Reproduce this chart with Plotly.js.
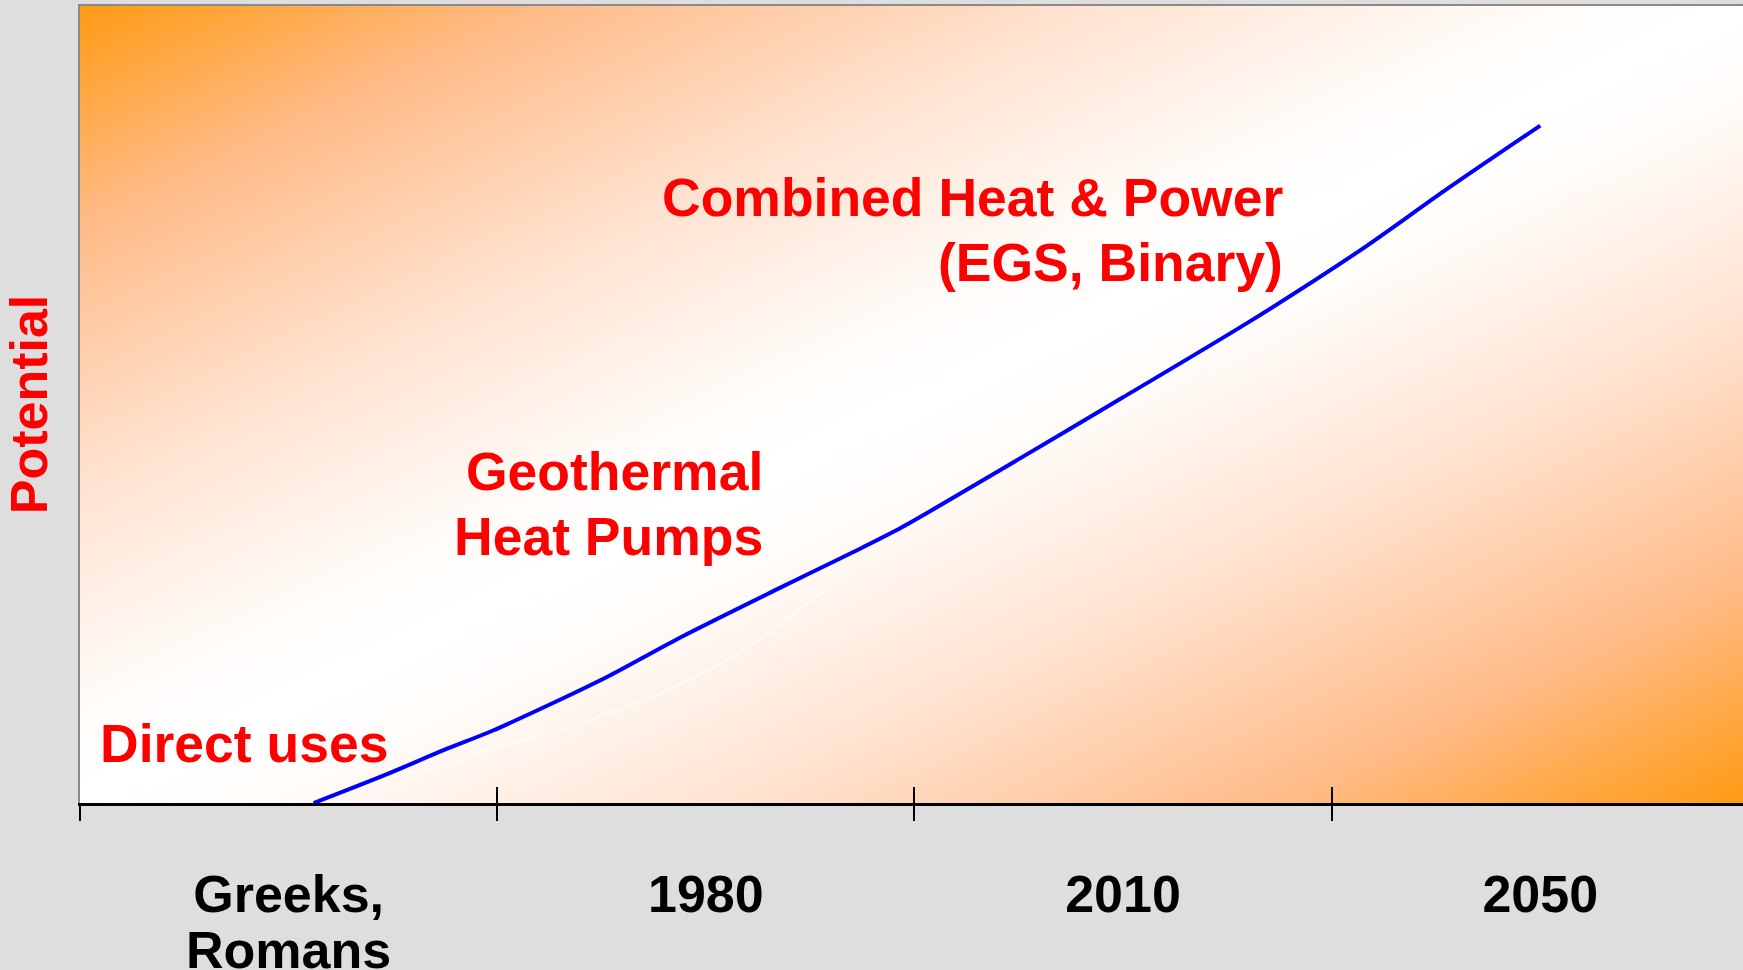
<!DOCTYPE html>
<html>
<head>
<meta charset="utf-8">
<script src="https://cdn.plot.ly/plotly-3.0.1.min.js"></script>
<style>
  html, body { margin: 0; padding: 0; background: #dedede; }
  #chart { width: 1743px; height: 970px; }
</style>
</head>
<body>
<div id="chart"></div>
<script>
// ---- Data ----
// x axis: eras, one category per unit (centres at 0.5, 1.5, 2.5, 3.5)
const eraLabels = ['Greeks,', '1980', '2010', '2050'];
const eraLabels2 = ['Romans'];          // second line of the first era label
const eraCentres = [0.5, 1.5, 2.5, 3.5];
const eraCentres2 = [0.5];
const eraBoundaries = [0, 1, 2, 3];

// blue "potential" curve (x in era units, y in % of plot height)
const potentialX = [0.56, 0.73, 0.87, 0.99, 1.14, 1.27, 1.44, 1.67, 1.85, 1.97, 2.21, 2.50, 2.80, 3.07, 3.27, 3.50];
const potentialY = [0.0, 3.5, 6.6, 9.1, 12.7, 16.0, 20.8, 26.8, 31.4, 34.6, 41.9, 50.9, 60.3, 69.4, 76.8, 85.0];

// faint white highlight curve below the blue one
const glowX = [0.50, 0.74, 0.89, 0.99, 1.19, 1.37, 1.50, 1.62, 1.78, 1.91];
const glowY = [0.0, 3.1, 5.0, 6.8, 9.9, 13.3, 16.5, 20.2, 26.5, 32.0];

// text labels
const stageLines = ['Direct uses', 'Geothermal', 'Heat Pumps', 'Combined Heat &amp; Power', '(EGS, Binary)'];
const yTitle = 'Potential';

// ---- Styling ----
const FONT = 'Liberation Sans, Arial, Helvetica, sans-serif';
const xRange = [0, 3.986];

const gradSvg =
  "<svg xmlns='http://www.w3.org/2000/svg' width='1663' height='797' viewBox='0 0 1663 797' preserveAspectRatio='none'>" +
  "<defs><linearGradient id='g' x1='0' y1='0' x2='1' y2='1'>" +
  "<stop offset='0' stop-color='#ff9a12'/>" +
  "<stop offset='0.14' stop-color='#ffbb88'/>" +
  "<stop offset='0.30' stop-color='#ffe2cf'/>" +
  "<stop offset='0.44' stop-color='#fffbf8'/>" +
  "<stop offset='0.50' stop-color='#ffffff'/>" +
  "<stop offset='0.56' stop-color='#fffbf8'/>" +
  "<stop offset='0.70' stop-color='#ffe2cf'/>" +
  "<stop offset='0.86' stop-color='#ffbb88'/>" +
  "<stop offset='1' stop-color='#ff9a12'/>" +
  "</linearGradient></defs><rect x='0' y='0' width='1663' height='797' fill='url(#g)'/></svg>";
const gradUri = 'data:image/svg+xml;charset=utf-8,' + encodeURIComponent(gradSvg);

function axisHolder(xa) {
  return { x: [null], y: [null], xaxis: xa, yaxis: 'y', type: 'scatter', mode: 'lines',
           hoverinfo: 'skip', showlegend: false };
}

const traces = [
  axisHolder('x2'), axisHolder('x3'), axisHolder('x4'), axisHolder('x5'),
  {
    x: glowX, y: glowY, type: 'scatter', mode: 'lines',
    line: { color: 'rgba(255,255,255,0.9)', width: 1.5, shape: 'spline', smoothing: 0.8 },
    hoverinfo: 'skip', showlegend: false
  },
  {
    x: potentialX, y: potentialY, type: 'scatter', mode: 'lines',
    line: { color: '#0000ff', width: 4, shape: 'spline', smoothing: 0.8 },
    hoverinfo: 'skip', showlegend: false
  }
];

const annFont = { family: FONT, size: 53.5, color: '#ff0000', weight: 'bold' };
function ann(text, x, y, xanchor) {
  return { text: text, xref: 'paper', yref: 'paper', x: x, y: y, xanchor: xanchor,
           yanchor: 'middle', align: xanchor, showarrow: false, font: annFont };
}
const tickFont = { family: FONT, size: 52, color: '#000000', weight: 'bold' };

const layout = {
  width: 1743, height: 970,
  margin: { l: 80, r: 0, t: 6, b: 167, pad: 0 },
  paper_bgcolor: '#dedede',
  plot_bgcolor: 'rgba(0,0,0,0)',
  showlegend: false,
  xaxis: {
    range: xRange, tickvals: eraCentres, ticktext: eraLabels,
    ticks: '', showgrid: false, zeroline: false,
    showline: true, linecolor: '#000000', linewidth: 2.5,
    tickfont: tickFont, ticklabelstandoff: 44, fixedrange: true
  },
  xaxis5: {
    overlaying: 'x', anchor: 'y', side: 'bottom', range: xRange,
    tickvals: eraCentres2, ticktext: eraLabels2,
    ticks: '', showgrid: false, zeroline: false, showline: false,
    tickfont: tickFont, ticklabelstandoff: 112, fixedrange: true
  },
  xaxis2: {
    overlaying: 'x', anchor: 'y', side: 'bottom', range: xRange,
    tickvals: eraBoundaries, ticks: 'outside', ticklen: 17, tickwidth: 2, tickcolor: '#000000',
    showticklabels: false, showgrid: false, zeroline: false, showline: false, fixedrange: true
  },
  xaxis3: {
    overlaying: 'x', anchor: 'y', side: 'bottom', range: xRange,
    tickvals: eraBoundaries, ticks: 'inside', ticklen: 16, tickwidth: 2, tickcolor: '#000000',
    showticklabels: false, showgrid: false, zeroline: false, showline: false, fixedrange: true
  },
  xaxis4: {
    overlaying: 'x', anchor: 'y', side: 'top', range: xRange,
    ticks: '', showticklabels: false, showgrid: false, zeroline: false,
    showline: true, linecolor: '#8a8a8a', linewidth: 2, fixedrange: true
  },
  yaxis: {
    range: [0, 100], ticks: '', showticklabels: false, showgrid: false, zeroline: false,
    showline: true, linecolor: '#8a8a8a', linewidth: 2, fixedrange: true,
    title: { text: yTitle, font: { family: FONT, size: 52, color: '#ff0000', weight: 'bold' } }
  },
  images: [{
    source: gradUri, xref: 'paper', yref: 'paper', x: 0, y: 1, sizex: 1, sizey: 1,
    sizing: 'stretch', xanchor: 'left', yanchor: 'top', layer: 'below'
  }],
  annotations: [
    ann(stageLines[0], 0.0108, 0.075, 'left'),
    ann(stageLines[1], 0.4118, 0.4159, 'right'),
    ann(stageLines[2], 0.4118, 0.3349, 'right'),
    ann(stageLines[3], 0.7248, 0.7591, 'right'),
    ann(stageLines[4], 0.7248, 0.6783, 'right')
  ]
};

Plotly.newPlot('chart', traces, layout, { displayModeBar: false, staticPlot: true });
</script>
</body>
</html>
